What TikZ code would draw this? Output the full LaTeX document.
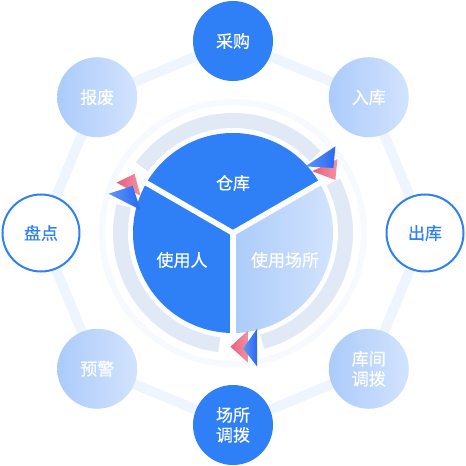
\documentclass[tikz,border=0pt]{standalone}
\usepackage{fontspec}
\newfontfamily\cjk[FakeBold=0.5]{Noto Sans CJK SC}
\definecolor{mainblue}{HTML}{2F80F7}
\definecolor{ltA}{HTML}{ABCBFA}
\definecolor{ltB}{HTML}{D2E3FD}
\definecolor{bandc}{HTML}{E2E9F6}
\definecolor{octc}{HTML}{EFF5FE}
\definecolor{faintc}{HTML}{F6F9FE}
\definecolor{pinkA}{HTML}{E8607C}
\definecolor{pinkB}{HTML}{F291A5}
\definecolor{triA}{HTML}{5C97FA}
\definecolor{triB}{HTML}{2B68F0}
\begin{document}
\begin{tikzpicture}[x=1pt,y=1pt,
  txt/.style={font=\cjk\fontsize{17}{20}\selectfont, text=white, align=center},
  solidc/.style={circle, minimum size=80pt, inner sep=0pt, fill=mainblue, txt},
  ringc/.style={circle, minimum size=77pt, inner sep=0pt, draw=mainblue, line width=2pt, fill=white, txt, text=mainblue},
  softc/.style={circle, minimum size=80pt, inner sep=0pt, left color=ltA, right color=ltB, txt},
  octedge/.style={draw=octc, line width=10pt, line join=round},
  bandarc/.style={draw=bandc, line width=15pt},
  sepline/.style={draw=white, line width=5.5pt},
  pinktri/.style={left color=pinkA, right color=pinkB},
  bluetri/.style={left color=triA, right color=triB},
]
\useasboundingbox (-233,-233) rectangle (233,233);
\fill[white] (-233,-233) rectangle (233,233);

% centres of the outer circles
\coordinate (pT)  at (90:192);
\coordinate (pTR) at (45:192);
\coordinate (pR)  at (0:192);
\coordinate (pBR) at (-45:192);
\coordinate (pB)  at (-90:192);
\coordinate (pBL) at (-135:192);
\coordinate (pL)  at (180:192);
\coordinate (pTL) at (135:192);
\coordinate (pc)  at (0,0);

% octagon band
\draw[octedge] (pT) -- (pTR) -- (pR) -- (pBR) -- (pB) -- (pBL) -- (pL) -- (pTL) -- cycle;

% faint ring
\draw[draw=faintc, line width=6pt] (pc) circle[radius=131];

% grey band arcs
\draw[bandarc] (43:112.5) arc[start angle=43, end angle=144, radius=112.5];
\draw[bandarc] (27:112.5) arc[start angle=27, end angle=-75, radius=112.5];
\draw[bandarc] (166:112.5) arc[start angle=166, end angle=263, radius=112.5];

% pie
\fill[mainblue] (pc) -- (30:100) arc[start angle=30, end angle=150, radius=100] -- cycle;
\fill[mainblue] (pc) -- (150:100) arc[start angle=150, end angle=270, radius=100] -- cycle;
\shade[left color=ltA, right color=ltB] (pc) -- (270:100) arc[start angle=270, end angle=390, radius=100] -- cycle;
\draw[sepline] (pc) -- (30:102);
\draw[sepline] (pc) -- (150:102);
\draw[sepline] (pc) -- (270:102);

\node[txt] (cangku) at (0,50) {仓库};
\node[txt] (user) at (-51,-27) {使用人};
\node[txt] (place) at (52,-27) {使用场所};

% arrow triangles
\begin{scope}[scale around={1.2:(90,69)}]
\shade[pinktri] (81,63) -- (102,73) -- (100.3,55.7) -- cycle;
\shade[bluetri] (75.3,67) -- (100.3,83.7) -- (98.7,65.7) -- cycle;
\end{scope}
\begin{scope}[scale around={1.2:(-106,42)}]
\shade[pinktri] (-114.7,49) -- (-99.7,56.3) -- (-94.7,38) -- cycle;
\shade[bluetri] (-121.3,39.7) -- (-101.3,46.3) -- (-94.7,26.3) -- cycle;
\end{scope}
\begin{scope}[scale around={1.2:(11,-114)}]
\shade[pinktri] (-0.3,-113.7) -- (14.3,-100.3) -- (14.3,-127) -- cycle;
\shade[bluetri] (10.3,-115.3) -- (22,-98.7) -- (22,-130.3) -- cycle;
\end{scope}

% outer circles
\node[solidc] (caigou) at (pT) {采购};
\node[softc]  (ruku)   at (pTR) {入库};
\node[ringc]  (chuku)  at (pR) {出库};
\node[softc]  (kujian) at (pBR) {库间\\调拨};
\node[solidc] (changsuo) at (pB) {场所\\调拨};
\node[softc]  (yujing) at (pBL) {预警};
\node[ringc]  (pandian) at (pL) {盘点};
\node[softc]  (baofei) at (pTL) {报废};
\end{tikzpicture}
\end{document}
